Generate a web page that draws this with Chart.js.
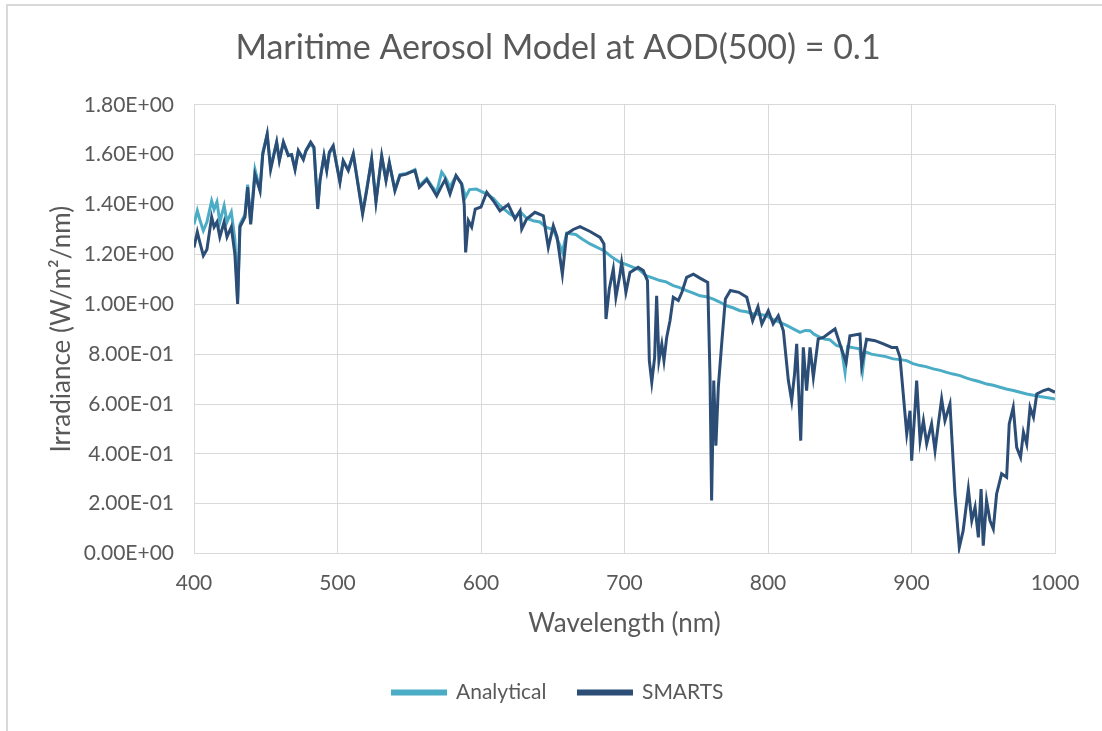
<!DOCTYPE html>
<html lang="en">
<head>
    <meta charset="UTF-8">
    <title>Maritime Aerosol Model</title>
    <script src="https://cdn.jsdelivr.net/npm/chart.js"></script>
    <style>
        body { margin: 0; background: #fff; }
        #frame {
            position: absolute; left: 6px; top: 4px; right: -10px; bottom: -10px;
            border-left: 2px solid #d9d9d9; border-top: 2px solid #d9d9d9;
        }
        #wrap { position: absolute; left: 0; top: 0; width: 1102px; height: 731px; }
    </style>
</head>
<body>
    <div id="frame"></div>
    <div id="wrap"><canvas id="spectrum" width="1102" height="731"></canvas></div>

    <script>
        // wavelength (nm) / irradiance (W/m2/nm) for each model
        const analyticalWl = [
            400, 402.3, 404, 406.5, 409, 412.3, 414, 416, 418, 421, 423, 426, 428.5, 430.4, 432, 435.5,
            437.4, 439.5, 442.5, 446, 447.9, 451, 453.4, 457.6, 459.5, 462.3, 465.7, 468, 470.4, 472.7,
            476.2, 478, 481.3, 483.6, 486.2, 487.8, 490.6, 492.5, 494.3, 497, 499.3, 501.7, 504, 507.5,
            511, 513.3, 517.5, 520.3, 523.8, 526.8, 530.8, 533.8, 536.1, 540, 543.5, 548, 550.5, 554,
            557, 562.2, 565.6, 569.1, 572.6, 575, 578.4, 582.6, 586.5, 589.3, 592, 596.8, 604, 608.6,
            613.2, 620.2, 624, 627.2, 631.8, 636.4, 641, 645.7, 650.4, 656.7, 659.7, 666, 671, 676,
            685.7, 691, 696.9, 701, 706.1, 710, 715, 720, 724.7, 729, 734, 738, 743.3, 748, 752.6, 757,
            762, 766, 771.2, 776, 780.5, 785, 789.8, 794, 799, 803, 808.4, 813, 817.6, 822.3, 826,
            829.3, 832, 836.3, 840, 843, 847.9, 851, 853.7, 855.5, 860, 864, 865.9, 867.5, 872, 878,
            882, 887.3, 892, 896.7, 901, 906, 910, 915.2, 920, 924.5, 929, 933.8, 938, 943, 947, 952.4,
            957, 961.7, 966, 971, 975, 980.3, 985, 989.6, 995, 1000
        ];
        const analyticalIrr = [
            1.32, 1.375, 1.34, 1.295, 1.33, 1.415, 1.38, 1.41, 1.33, 1.395, 1.33, 1.37, 1.26, 1.02, 1.32, 1.36,
            1.48, 1.33, 1.54, 1.46, 1.61, 1.68, 1.55, 1.65, 1.58, 1.65, 1.60, 1.60, 1.545, 1.615,
            1.585, 1.615, 1.645, 1.625, 1.39, 1.50, 1.595, 1.54, 1.605, 1.63, 1.565, 1.495, 1.575, 1.54,
            1.60, 1.52, 1.37, 1.46, 1.58, 1.415, 1.59, 1.50, 1.565, 1.46, 1.52, 1.525, 1.53, 1.54,
            1.475, 1.505, 1.475, 1.45, 1.53, 1.51, 1.47, 1.515, 1.485, 1.43, 1.46, 1.462, 1.442, 1.425,
            1.395, 1.362, 1.35, 1.372, 1.345, 1.335, 1.33, 1.308, 1.30, 1.21, 1.285, 1.28, 1.26, 1.242,
            1.215, 1.19, 1.168, 1.16, 1.148, 1.14, 1.115, 1.105, 1.095, 1.09, 1.075, 1.068, 1.055, 1.045, 1.034, 1.03,
            1.021, 1.01, 0.994, 0.985, 0.974, 0.97, 0.961, 0.96, 0.954, 0.94, 0.927, 0.915, 0.901, 0.887, 0.895,
            0.894, 0.88, 0.867, 0.86, 0.858, 0.834, 0.83, 0.727, 0.83, 0.825, 0.821, 0.734, 0.81, 0.80, 0.794,
            0.79, 0.781, 0.778, 0.774, 0.762, 0.754, 0.75, 0.741, 0.735, 0.727, 0.72, 0.714, 0.705, 0.696, 0.69, 0.68,
            0.675, 0.667, 0.66, 0.654, 0.648, 0.64, 0.635, 0.63, 0.625, 0.62
        ];

        const smartsWl = [
            400, 402.3, 404, 406.5, 409, 412.3, 414, 416, 418, 421, 423, 426, 428.5, 430.4, 432, 435.5,
            437.4, 439.5, 442.5, 446, 447.9, 451, 453.4, 457.6, 459.5, 462.3, 465.7, 468, 470.4, 472.7,
            476.2, 478, 481.3, 483.6, 486.2, 487.8, 490.6, 492.5, 494.3, 497, 499.3, 501.7, 504, 507.5,
            511, 513.3, 517.5, 520.3, 523.8, 526.8, 530.8, 533.8, 536.1, 540, 543.5, 548, 550.5, 554,
            557, 562.2, 565.6, 569.1, 572.6, 575, 578.4, 582.6, 586.5, 588.3, 589.3, 591.2, 593.5, 596,
            600, 604, 608.6, 613.2, 619, 623.7, 627.2, 628.4, 631.8, 637.6, 643.4, 646.9, 650.4, 653,
            656.7, 659.7, 664.3, 669, 676, 683, 685.7, 687.1, 689.4, 692.2, 694, 696.7, 698, 701, 703.8,
            709.5, 713.1, 716, 717.3, 719, 721, 722.4, 724, 726, 727.5, 729.4, 731.7, 734, 737.5, 740,
            743.3, 748, 752.6, 758, 759.6, 760.7, 762.2, 763.7, 765.4, 767.9, 770.3, 773.8, 779.7, 785.2,
            789.3, 793, 795.7, 800.2, 803.6, 807.2, 810.7, 814.2, 816.5, 818.5, 820, 822.8, 824.6, 826.9,
            829.3, 831.6, 835, 838.6, 843.2, 846.7, 850.1, 854.4, 857.1, 864.1, 865.3, 868.7, 874.6, 880.4,
            886.2, 889.7, 892, 896.7, 899, 900.1, 902.5, 903.6, 906, 908.3, 910.6, 914, 916.4, 918.7,
            921, 923.3, 926.8, 930.3, 933.3, 936, 939.6, 942, 944.3, 946.6, 948.5, 950, 952.3, 954.7,
            957, 959.3, 962.8, 966.3, 968.1, 970.9, 973.3, 976, 978, 980.3, 982.6, 985, 987.3, 992,
            995.4, 1000
        ];
        const smartsIrr = [
            1.228, 1.29, 1.25, 1.195, 1.22, 1.35, 1.31, 1.33, 1.27, 1.33, 1.27, 1.31, 1.2, 1.001, 1.31, 1.35,
            1.47, 1.32, 1.52, 1.455, 1.60, 1.683, 1.54, 1.65, 1.576, 1.65, 1.596, 1.60, 1.54, 1.616,
            1.58, 1.616, 1.65, 1.63, 1.382, 1.496, 1.596, 1.536, 1.61, 1.636, 1.562, 1.489, 1.575, 1.536,
            1.603, 1.516, 1.362, 1.455, 1.583, 1.409, 1.596, 1.496, 1.569, 1.455, 1.516, 1.522, 1.529, 1.536,
            1.469, 1.50, 1.469, 1.435, 1.475, 1.50, 1.442, 1.516, 1.482, 1.40, 1.208, 1.335, 1.31, 1.382,
            1.39, 1.449, 1.415, 1.375, 1.40, 1.342, 1.375, 1.302, 1.342, 1.369, 1.355, 1.228, 1.315, 1.27,
            1.121, 1.282, 1.30, 1.311, 1.292, 1.268, 1.242, 0.941, 1.061, 1.142, 1.028, 1.115, 1.168, 1.048, 1.128,
            1.148, 1.135, 1.095, 0.774, 0.687, 0.787, 1.034, 0.774, 0.84, 0.774, 0.867, 0.934, 1.028, 1.015, 1.048,
            1.108, 1.121, 1.105, 1.088, 0.707, 0.213, 0.694, 0.433, 0.67, 0.854, 1.021, 1.055, 1.048, 1.028,
            0.934, 0.99, 0.921, 0.974, 0.921, 0.954, 0.894, 0.694, 0.613, 0.72, 0.841, 0.453, 0.827, 0.654,
            0.827, 0.707, 0.861, 0.867, 0.887, 0.901, 0.841, 0.767, 0.874, 0.881, 0.754, 0.86, 0.854, 0.841,
            0.827, 0.827, 0.787, 0.48, 0.573, 0.373, 0.587, 0.694, 0.453, 0.533, 0.44, 0.52, 0.413, 0.52,
            0.62, 0.533, 0.60, 0.239, 0.025, 0.092, 0.259, 0.132, 0.186, 0.065, 0.259, 0.032, 0.213, 0.132,
            0.099, 0.239, 0.32, 0.306, 0.52, 0.587, 0.426, 0.386, 0.487, 0.44, 0.587, 0.547, 0.64, 0.654,
            0.66, 0.647
        ];

        const xTicks = [400, 500, 600, 700, 800, 900, 1000];
        const yTicks = [0, 0.2, 0.4, 0.6, 0.8, 1.0, 1.2, 1.4, 1.6, 1.8];

        const pairs = (xs, ys) => xs.map((x, i) => ({ x: x, y: ys[i] }));

        // Excel style scientific label, e.g. 1.80E+00
        function sci(v) {
            const parts = v.toExponential(2).split('e');
            const exp = parseInt(parts[1], 10);
            const sign = exp < 0 ? '-' : '+';
            return parts[0] + 'E' + sign + String(Math.abs(exp)).padStart(2, '0');
        }

        const grey = '#595959';
        const gridGrey = '#d9d9d9';
        Chart.defaults.font.family = 'Lato, "Open Sans", sans-serif';
        Chart.defaults.color = grey;

        const ctx = document.getElementById('spectrum').getContext('2d');
        new Chart(ctx, {
            type: 'line',
            data: {
                datasets: [{
                    label: 'Analytical',
                    data: pairs(analyticalWl, analyticalIrr),
                    borderColor: '#4bacc6',
                    backgroundColor: '#4bacc6',
                    borderWidth: 3,
                    pointRadius: 0,
                    tension: 0,
                    order: 1
                }, {
                    label: 'SMARTS',
                    data: pairs(smartsWl, smartsIrr),
                    borderColor: '#2c4d75',
                    backgroundColor: '#2c4d75',
                    borderWidth: 3,
                    pointRadius: 0,
                    tension: 0,
                    order: 0
                }]
            },
            options: {
                responsive: false,
                animation: false,
                layout: { padding: { left: 14, right: 0, top: 0, bottom: 18 } },
                scales: {
                    x: {
                        type: 'linear',
                        min: 400,
                        max: 1000,
                        afterBuildTicks: s => { s.ticks = xTicks.map(v => ({ value: v })); },
                        ticks: { padding: 0, font: { size: 21 }, color: grey, callback: v => String(v) },
                        // invisible tick marks keep the labels clear of the plot
                        grid: { color: gridGrey, drawTicks: true, tickLength: 17, tickColor: 'rgba(0,0,0,0)' },
                        border: { color: gridGrey },
                        title: {
                            display: true, text: 'Wavelength (nm)', color: grey,
                            font: { size: 26 }, padding: { top: 12, bottom: 11 }
                        }
                    },
                    y: {
                        min: 0,
                        max: 1.8,
                        afterBuildTicks: s => { s.ticks = yTicks.map(v => ({ value: v })); },
                        afterFit: s => { s.width = 180; },
                        ticks: { padding: 20, font: { size: 21 }, color: grey, callback: v => sci(v) },
                        grid: { color: gridGrey, drawTicks: false },
                        border: { color: gridGrey },
                        title: {
                            display: true, text: 'Irradiance (W/m\u00b2/nm)', color: grey,
                            font: { size: 26 }, padding: { top: 32, bottom: 0 }
                        }
                    },
                    // empty margin on the right so the plot ends before the canvas edge
                    gutter: {
                        type: 'linear',
                        position: 'right',
                        afterFit: s => { s.width = 47; },
                        ticks: { display: false },
                        grid: { display: false },
                        border: { display: false }
                    }
                },
                plugins: {
                    title: {
                        display: true,
                        text: 'Maritime Aerosol Model at AOD(500) = 0.1',
                        color: grey,
                        font: { size: 34, weight: 'normal' },
                        padding: { top: 28, bottom: 36 }
                    },
                    legend: {
                        position: 'bottom',
                        labels: {
                            boxWidth: 53,
                            boxHeight: 3,
                            padding: 32,
                            font: { size: 21 },
                            color: grey,
                            sort: (a, b) => a.datasetIndex - b.datasetIndex
                        }
                    },
                    tooltip: { enabled: false }
                }
            }
        });
    </script>
</body>
</html>
